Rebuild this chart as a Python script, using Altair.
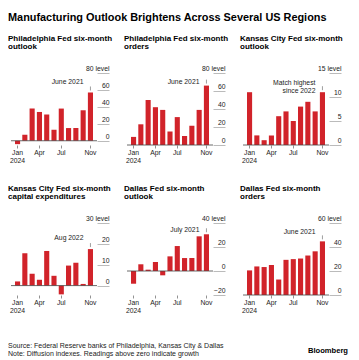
import altair as alt
import pandas as pd

months = ["Jan", "Feb", "Mar", "Apr", "May", "Jun", "Jul", "Aug", "Sep", "Oct", "Nov"]
month_ticks = ["Jan", "Apr", "Jul", "Nov"]

chart_title = "Manufacturing Outlook Brightens Across Several US Regions"
panel_titles = [
    ["Philadelphia Fed six-month", "outlook"],
    ["Philadelphia Fed six-month", "orders"],
    ["Kansas City Fed six-month", "outlook"],
    ["Kansas City Fed six-month", "capital expenditures"],
    ["Dallas Fed six-month", "outlook"],
    ["Dallas Fed six-month", "orders"],
]

philly_outlook = [-4, 7, 38, 34, 31, 13, 38, 15, 15, 36, 57]
philly_orders = [9, 23, 50, 42, 39, 15, 31, 10, 21.5, 39, 66]
kc_outlook = [11, 2, 1, 2, 6, 7, 5, 8, 9, 7, 11]
kc_capex = [2, 15.5, 5.7, 2.8, 16.6, 4.7, -4.2, 9.6, 10.9, 0.8, 17.5]
dallas_outlook = [-10.6, 5.6, 1.1, 7.5, -3.6, 12.2, 20.8, 10.8, 10.8, 28.9, 30.6]
dallas_orders = [20.5, 23.8, 23.3, 24.9, 12.9, 29.3, 29.9, 30.4, 32.9, 36.4, 44.7]
series = [philly_outlook, philly_orders, kc_outlook, kc_capex, dallas_outlook, dallas_orders]

y_domains = [[-5, 80], [0, 80], [0, 15], [-4.5, 30], [-20, 40], [0, 60]]
y_ticks = [[0, 20, 40, 60, 80], [0, 20, 40, 60, 80], [0, 5, 10, 15],
           [0, 10, 20, 30], [-20, 0, 20, 40], [0, 20, 40, 60]]
notes = ["June 2021", "June 2021", "Match highest\nsince 2022", "Aug 2022", "July 2021", "June 2021"]
note_levels = [69.4, 70.3, 13.0, 22.7, 34.2, 52.7]
zero_level = [0]

source_lines = [
    "Source: Federal Reserve banks of Philadelphia, Kansas City & Dallas",
    "Note: Diffusion indexes. Readings above zero indicate growth",
]
brand = "Bloomberg"

RED = "#d1232a"
FONT = "Liberation Sans"
LBL = 6.8


def panel(title, values, dom, ticks, note, note_level):
    top = dom[1]
    df = pd.DataFrame({"month": months, "value": values})
    x = alt.X(
        "month:N", title=None,
        scale=alt.Scale(domain=months, paddingInner=0.3, paddingOuter=0.55),
        axis=alt.Axis(values=month_ticks, labelAngle=0,
                      labelExpr="datum.value == 'Jan' ? ['Jan', '2024'] : datum.value",
                      domain=False, tickSize=3, tickColor="#777", tickWidth=0.8,
                      labelPadding=1.5, labelFontSize=LBL, labelColor="#222",
                      labelLineHeight=7.5),
    )
    y = alt.Y(
        "value:Q", title=None,
        scale=alt.Scale(domain=dom, nice=False, zero=False),
        axis=alt.Axis(orient="right", values=ticks,
                      labelExpr=f"datum.value == {top} ? '{top} level' : datum.label",
                      domain=False, grid=False, tickSize=12, tickColor="#aaa",
                      tickWidth=0.8, labelAlign="right", labelBaseline="bottom",
                      labelPadding=0, labelOffset=-1.5, labelFontSize=LBL,
                      labelColor="#222", labelFlush=False, labelOverlap=False),
    )
    bars = alt.Chart(df).mark_bar(color=RED).encode(x=x, y=y)
    zero = alt.Chart(pd.DataFrame({"value": zero_level})).mark_rule(
        color="#444", strokeWidth=0.8).encode(y=y)
    mdf = pd.DataFrame({"month": [months[-1]], "value": [values[-1]]})
    marker = alt.Chart(mdf).mark_rule(color="#888", strokeWidth=0.8, yOffset=-2, y2Offset=-6).encode(
        x=x, y=y, y2=alt.Y2("value"))
    ndf = pd.DataFrame({"month": [months[-1]], "value": [note_level], "note": [note]})
    text = alt.Chart(ndf).mark_text(align="right", baseline="middle", dx=-7, fontSize=LBL,
                                    lineBreak="\n", lineHeight=8, color="#222").encode(
        x=x, y=y, text="note:N")
    return alt.layer(bars, zero, marker, text).properties(
        width=86, height=72,
        title=alt.TitleParams(text=title, anchor="start", fontSize=8, fontWeight="bold",
                              frame="group", offset=15, dx=-3, lineHeight=8, color="#000"),
    )


panels = [panel(panel_titles[i], series[i], y_domains[i], y_ticks[i], notes[i], note_levels[i])
          for i in range(6)]

grid = alt.concat(*panels, columns=3, spacing={"row": 78, "column": 30}, bounds="flush")

foot = alt.layer(
    alt.Chart(pd.DataFrame({"t": ["\n".join(source_lines)]})).mark_text(
        align="left", baseline="top", fontSize=7, lineBreak="\n", lineHeight=7.5, color="#222"
    ).encode(x=alt.value(-3), y=alt.value(0), text="t:N"),
    alt.Chart(pd.DataFrame({"t": [brand]})).mark_text(
        align="right", baseline="top", fontSize=7.6, fontWeight="bold", color="#000"
    ).encode(x=alt.value(337), y=alt.value(5), text="t:N"),
).properties(width=330, height=16)

chart = alt.vconcat(
    grid, foot, spacing=28,
    title=alt.TitleParams(text=chart_title, anchor="start", fontSize=10.9, fontWeight="bold",
                          offset=12, color="#000"),
).properties(
    padding={"left": 0, "top": 3, "right": 0, "bottom": 0}
).configure(font=FONT).configure_view(stroke=None)

chart.save("out.html", embed_options={"renderer": "svg", "actions": False})
